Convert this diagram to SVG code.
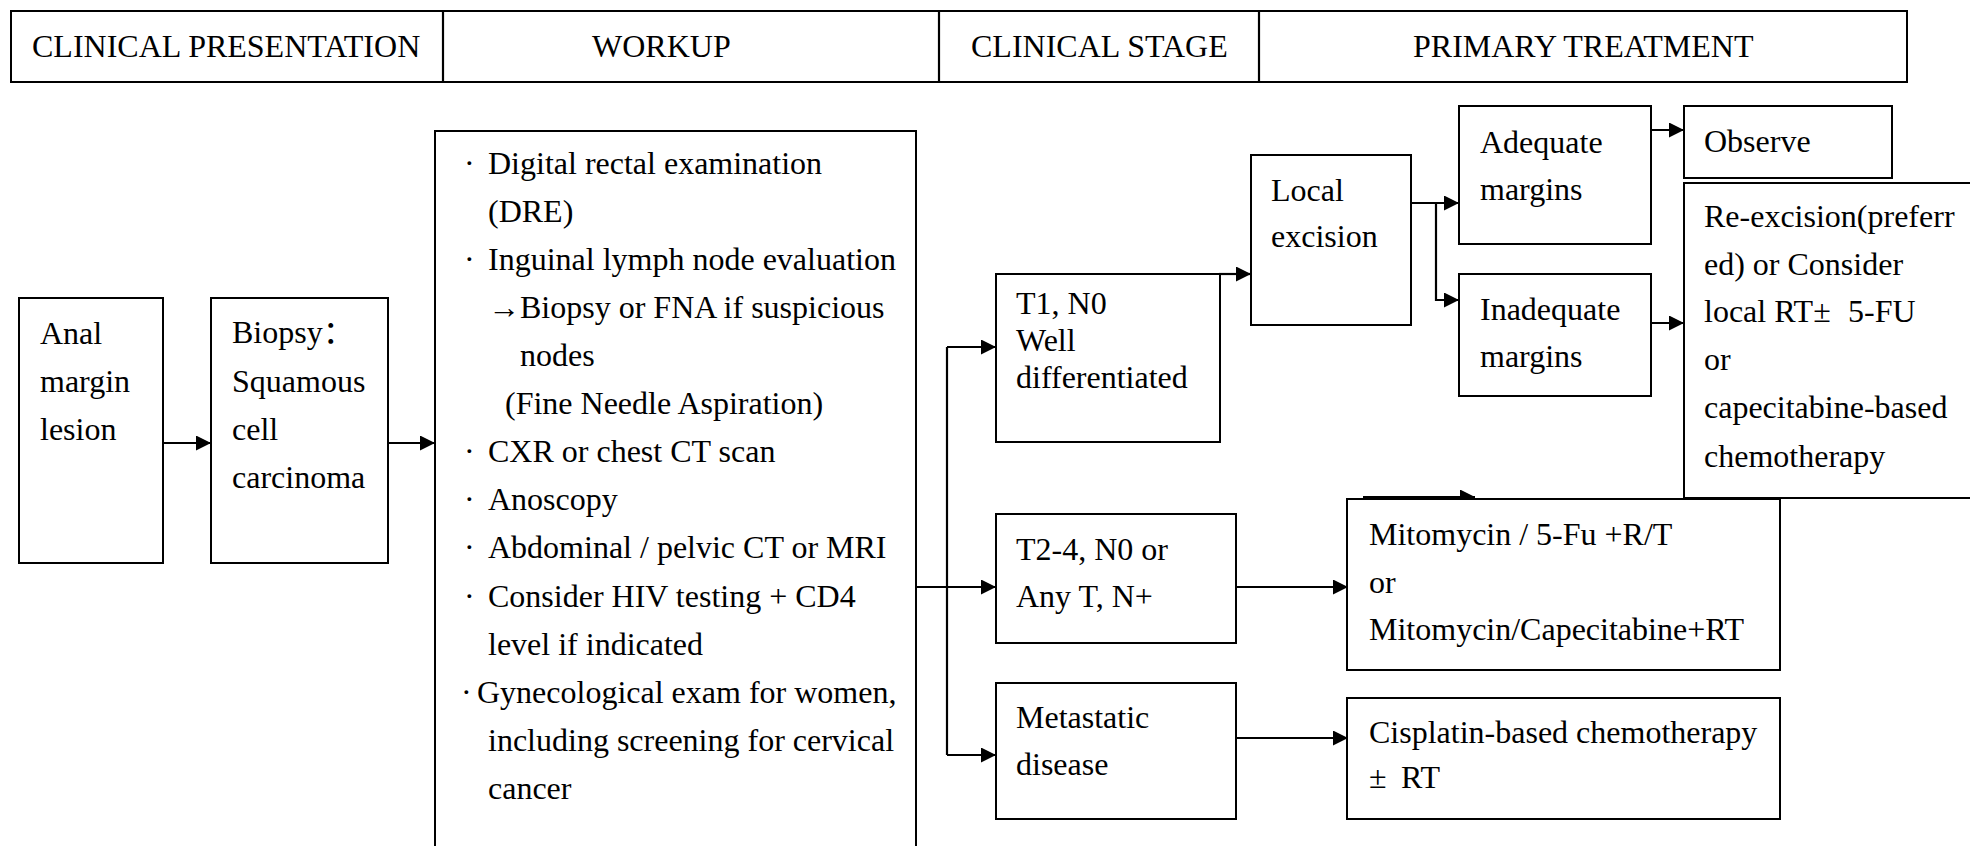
<svg xmlns="http://www.w3.org/2000/svg" width="1970" height="846" viewBox="0 0 1970 846">
<style>
text{font-family:"Liberation Serif","Times New Roman",Times,serif;font-size:32px;fill:#000}
.cjk{font-family:"Liberation Serif","Noto Sans CJK SC",serif}
.box{fill:#fff;stroke:#000;stroke-width:2}
.ln{fill:none;stroke:#000;stroke-width:2.2}
.ar{fill:none;stroke:#000;stroke-width:2.2;marker-end:url(#ah)}
</style>
<defs>
<marker id="ah" markerUnits="userSpaceOnUse" markerWidth="16" markerHeight="16" refX="15" refY="7.5" orient="auto"><path d="M0,0 L15,7.5 L0,15 z" fill="#000"/></marker>
</defs>
<rect width="1970" height="846" fill="#fff"/>
<g id="header">
<rect class="box" x="11" y="11" width="1896" height="71"/>
<line class="ln" x1="443" y1="11" x2="443" y2="82"/>
<line class="ln" x1="939" y1="11" x2="939" y2="82"/>
<line class="ln" x1="1259" y1="11" x2="1259" y2="82"/>
<text x="32" y="57">CLINICAL PRESENTATION</text>
<text x="592" y="57">WORKUP</text>
<text x="971" y="57">CLINICAL STAGE</text>
<text x="1413" y="57">PRIMARY TREATMENT</text>
</g>
<g id="connectors">
<line class="ar" x1="163" y1="443" x2="211" y2="443"/>
<line class="ar" x1="388" y1="443" x2="435" y2="443"/>
<line class="ar" x1="916" y1="587" x2="996" y2="587"/>
<polyline class="ln" points="947,347 947,755"/>
<line class="ar" x1="947" y1="347" x2="996" y2="347"/>
<line class="ar" x1="947" y1="755" x2="996" y2="755"/>
<line class="ar" x1="1219" y1="274" x2="1251" y2="274"/>
<line class="ar" x1="1411" y1="203" x2="1459" y2="203"/>
<polyline class="ar" points="1436,203 1436,300 1459,300"/>
<line class="ar" x1="1651" y1="130" x2="1684" y2="130"/>
<line class="ar" x1="1651" y1="323" x2="1684" y2="323"/>
<line class="ar" x1="1236" y1="587" x2="1348" y2="587"/>
<line class="ar" x1="1236" y1="738" x2="1348" y2="738"/>
<line class="ar" x1="1363" y1="497" x2="1475" y2="497"/>
</g>
<g id="anal-margin-lesion">
<rect class="box" x="19" y="298" width="144" height="265"/>
<text x="40" y="344">Anal</text>
<text x="40" y="392">margin</text>
<text x="40" y="440">lesion</text>
</g>
<g id="biopsy">
<rect class="box" x="211" y="298" width="177" height="265"/>
<text class="cjk" x="232" y="343">Biopsy：</text>
<text x="232" y="392">Squamous</text>
<text x="232" y="440">cell</text>
<text x="232" y="488">carcinoma</text>
</g>
<g id="workup">
<path class="box" d="M435,852 V131 H916 V852"/>
<text y="174"><tspan x="464">·</tspan><tspan x="488">Digital rectal examination</tspan></text>
<text x="488" y="222">(DRE)</text>
<text y="270"><tspan x="464">·</tspan><tspan x="488">Inguinal lymph node evaluation</tspan></text>
<text y="318"><tspan x="488">→</tspan><tspan x="520">Biopsy or FNA if suspicious</tspan></text>
<text x="520" y="366">nodes</text>
<text x="505" y="414">(Fine Needle Aspiration)</text>
<text y="462"><tspan x="464">·</tspan><tspan x="488">CXR or chest CT scan</tspan></text>
<text y="510"><tspan x="464">·</tspan><tspan x="488">Anoscopy</tspan></text>
<text y="558"><tspan x="464">·</tspan><tspan x="488">Abdominal / pelvic CT or MRI</tspan></text>
<text y="607"><tspan x="464">·</tspan><tspan x="488">Consider HIV testing + CD4</tspan></text>
<text x="488" y="655">level if indicated</text>
<text y="703"><tspan x="461">·</tspan><tspan x="477">Gynecological exam for women,</tspan></text>
<text x="488" y="751">including screening for cervical</text>
<text x="488" y="799">cancer</text>
</g>
<g id="t1n0">
<rect class="box" x="996" y="274" width="224" height="168"/>
<text x="1016" y="314">T1, N0</text>
<text x="1016" y="351">Well</text>
<text x="1016" y="388">differentiated</text>
</g>
<g id="t2-4">
<rect class="box" x="996" y="514" width="240" height="129"/>
<text x="1016" y="560">T2-4, N0 or</text>
<text x="1016" y="607">Any T, N+</text>
</g>
<g id="metastatic">
<rect class="box" x="996" y="683" width="240" height="136"/>
<text x="1016" y="728">Metastatic</text>
<text x="1016" y="775">disease</text>
</g>
<g id="local-excision">
<rect class="box" x="1251" y="155" width="160" height="170"/>
<text x="1271" y="201">Local</text>
<text x="1271" y="247">excision</text>
</g>
<g id="adequate">
<rect class="box" x="1459" y="106" width="192" height="138"/>
<text x="1480" y="153">Adequate</text>
<text x="1480" y="200">margins</text>
</g>
<g id="inadequate">
<rect class="box" x="1459" y="274" width="192" height="122"/>
<text x="1480" y="320">Inadequate</text>
<text x="1480" y="367">margins</text>
</g>
<g id="observe">
<rect class="box" x="1684" y="106" width="208" height="72"/>
<text x="1704" y="152">Observe</text>
</g>
<g id="re-excision">
<rect class="box" x="1684" y="183" width="300" height="315"/>
<text x="1704" y="227">Re-excision(preferr</text>
<text x="1704" y="275">ed) or Consider</text>
<text y="322"><tspan x="1704">local RT±</tspan><tspan x="1848">5-FU</tspan></text>
<text x="1704" y="370">or</text>
<text x="1704" y="418">capecitabine-based</text>
<text x="1704" y="467">chemotherapy</text>
</g>
<g id="mitomycin">
<rect class="box" x="1347" y="499" width="433" height="171"/>
<text x="1369" y="545">Mitomycin / 5-Fu +R/T</text>
<text x="1369" y="593">or</text>
<text x="1369" y="640">Mitomycin/Capecitabine+RT</text>
</g>
<g id="cisplatin">
<rect class="box" x="1347" y="698" width="433" height="121"/>
<text x="1369" y="743">Cisplatin-based chemotherapy</text>
<text y="788"><tspan x="1369">±</tspan><tspan x="1401">RT</tspan></text>
</g>
</svg>
